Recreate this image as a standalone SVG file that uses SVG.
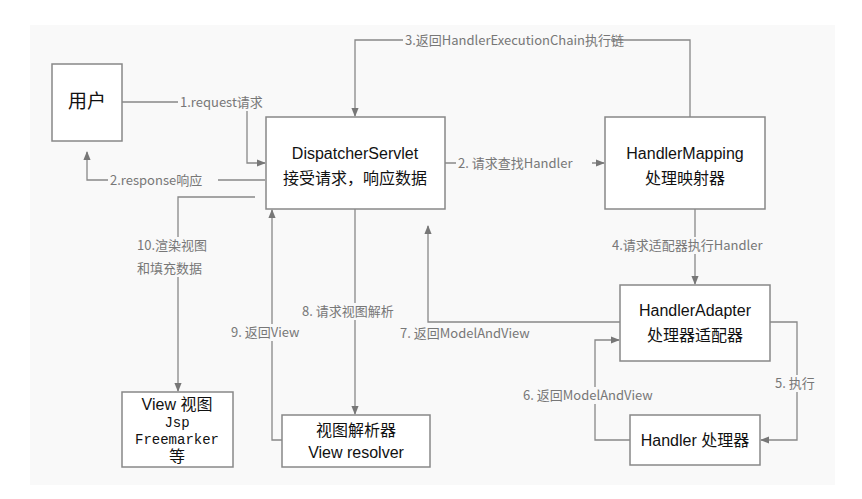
<svg xmlns="http://www.w3.org/2000/svg" width="862" height="499" viewBox="0 0 862 499">
<style>
.box{fill:#fff;stroke:#888;stroke-width:1.5}
.t{font-family:"Liberation Sans","Noto Sans CJK SC",sans-serif;font-size:16px;fill:#111;text-anchor:middle}
.m{font-family:"Liberation Mono","Noto Sans CJK SC",monospace;font-size:14px;fill:#111;text-anchor:middle}
.l{font-family:"Noto Sans CJK SC",sans-serif;font-size:13px;fill:#777}
.c{fill:none;stroke:#888;stroke-width:1.3;marker-end:url(#a)}
.b{fill:#f9f9f9}
</style>
<defs><marker id="a" viewBox="0 0 10 10" refX="9" refY="5" markerWidth="7" markerHeight="7" orient="auto"><path d="M0,1L10,5L0,9z" fill="#777"/></marker></defs>
<rect width="862" height="499" fill="#fff"/>
<rect x="30" y="25" width="805" height="460" fill="#f9f9f9"/>
<g id="connectors">
<path class="c" d="M122,102H247V163H265"/>
<path class="c" d="M265,180H87V152"/>
<path class="c" d="M690,117V40H355V116"/>
<path class="c" d="M445,163H604"/>
<path class="c" d="M695,209V284"/>
<path class="c" d="M770,322H797V440H761"/>
<path class="c" d="M630,440H595V340H619"/>
<path class="c" d="M620,322H428V226"/>
<path class="c" d="M355,209V414"/>
<path class="c" d="M282,440H272V210"/>
<path class="c" d="M255,197H178V391"/>
</g>
<g id="labels">
<rect class="b" x="178" y="94" width="94" height="17"/>
<text class="l" x="180" y="107">1.request请求</text>
<rect class="b" x="108" y="172" width="110" height="17"/>
<text class="l" x="110" y="185">2.response响应</text>
<rect class="b" x="403" y="32" width="208" height="17"/>
<text class="l" x="405" y="45">3.返回HandlerExecutionChain执行链</text>
<rect class="b" x="456" y="155" width="136" height="17"/>
<text class="l" x="458" y="168">2. 请求查找Handler</text>
<rect class="b" x="610" y="237" width="160" height="17"/>
<text class="l" x="612" y="250">4.请求适配器执行Handler</text>
<rect class="b" x="773" y="375" width="48" height="17"/>
<text class="l" x="775" y="388">5. 执行</text>
<rect class="b" x="521" y="387" width="148" height="17"/>
<text class="l" x="523" y="400">6. 返回ModelAndView</text>
<text class="l" x="400" y="338">7. 返回ModelAndView</text>
<rect class="b" x="300" y="303" width="114" height="17"/>
<text class="l" x="302" y="316">8. 请求视图解析</text>
<rect class="b" x="229" y="324" width="84" height="17"/>
<text class="l" x="231" y="337">9. 返回View</text>
<rect class="b" x="135" y="237" width="86" height="40"/>
<text class="l" x="137" y="250">10.渲染视图</text>
<text class="l" x="137" y="273">和填充数据</text>
</g>
<g id="user"><rect class="box" x="52" y="64" width="70" height="77"/><text class="t" x="87" y="108" style="font-size:19px">用户</text></g>
<g id="dispatcher"><rect class="box" x="266" y="117" width="179" height="92"/><text class="t" x="355" y="159">DispatcherServlet</text><text class="t" x="355" y="184">接受请求，响应数据</text></g>
<g id="mapping"><rect class="box" x="605" y="117" width="160" height="92"/><text class="t" x="685" y="159">HandlerMapping</text><text class="t" x="685" y="184">处理映射器</text></g>
<g id="adapter"><rect class="box" x="620" y="285" width="150" height="76"/><text class="t" x="695" y="316">HandlerAdapter</text><text class="t" x="695" y="341">处理器适配器</text></g>
<g id="handler"><rect class="box" x="630" y="415" width="130" height="50"/><text class="t" x="695" y="446">Handler 处理器</text></g>
<g id="view"><rect class="box" x="122" y="392" width="111" height="75"/><text class="t" x="177" y="410">View 视图</text><text class="m" x="177" y="427">Jsp</text><text class="m" x="177" y="444">Freemarker</text><text class="t" x="177" y="462">等</text></g>
<g id="resolver"><rect class="box" x="282" y="415" width="148" height="52"/><text class="t" x="356" y="436">视图解析器</text><text class="t" x="356" y="458">View resolver</text></g>
</svg>
